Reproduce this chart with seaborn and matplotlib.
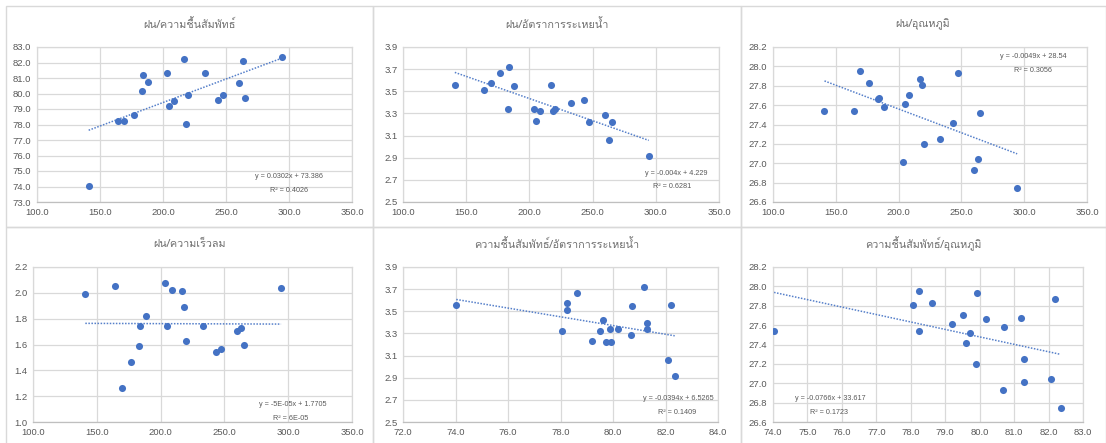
import numpy as np
import pandas as pd
import matplotlib
matplotlib.use("Agg")
import matplotlib.pyplot as plt
from matplotlib import font_manager
from matplotlib.ft2font import FT2Font
from matplotlib.patches import Rectangle
import seaborn as sns

# ---------------- data ----------------
rain = [141.0, 164.4, 169.4, 176.8, 183.4, 184.2, 188.2, 203.5, 205.1, 208.6,
        216.8, 218.4, 220.0, 233.2, 243.3, 247.5, 260.0, 263.1, 265.0, 294.4]
rh = [74.03, 78.25, 78.23, 78.63, 80.18, 81.19, 80.72, 81.30, 79.19, 79.52,
      82.20, 78.05, 79.90, 81.30, 79.60, 79.92, 80.68, 82.08, 79.73, 82.35]
evap = [3.560, 3.510, 3.575, 3.665, 3.343, 3.722, 3.545, 3.337, 3.228, 3.319,
        3.554, 3.325, 3.343, 3.394, 3.424, 3.225, 3.283, 3.057, 3.219, 2.915]
temp = [27.536, 27.539, 27.952, 27.825, 27.663, 27.673, 27.577, 27.013, 27.608, 27.701,
        27.870, 27.808, 27.202, 27.250, 27.419, 27.932, 26.930, 27.044, 27.515, 26.744]
wind = [1.988, 2.050, 1.266, 1.466, 1.590, 1.747, 1.820, 2.076, 1.745, 2.019,
        2.011, 1.890, 1.629, 1.740, 1.543, 1.568, 1.706, 1.731, 1.595, 2.040]

titles = ["ฝน/ความชื้นสัมพัทธ์", "ฝน/อัตราการระเหยน้ำ", "ฝน/อุณหภูมิ",
          "ฝน/ความเร็วลม", "ความชื้นสัมพัทธ์/อัตราการระเหยน้ำ", "ความชื้นสัมพัทธ์/อุณหภูมิ"]
eq_texts = ["y = 0.0302x + 73.386", "y = -0.004x + 4.229", "y = -0.0049x + 28.54",
            "y = -5E-05x + 1.7705", "y = -0.0394x + 6.5265", "y = -0.0766x + 33.617"]
r2_texts = ["R² = 0.4026", "R² = 0.6281", "R² = 0.3056",
            "R² = 6E-05", "R² = 0.1409", "R² = 0.1723"]

x_ticks_rain = [100, 150, 200, 250, 300, 350]
x_ticks_rh5 = [72, 74, 76, 78, 80, 82, 84]
x_ticks_rh6 = [74, 75, 76, 77, 78, 79, 80, 81, 82, 83]
y_ticks_rh = [73, 74, 75, 76, 77, 78, 79, 80, 81, 82, 83]
y_ticks_evap = [2.5, 2.7, 2.9, 3.1, 3.3, 3.5, 3.7, 3.9]
y_ticks_temp = [26.6, 26.8, 27.0, 27.2, 27.4, 27.6, 27.8, 28.0, 28.2]
y_ticks_wind = [1.0, 1.2, 1.4, 1.6, 1.8, 2.0, 2.2]

df = pd.DataFrame({"rain": rain, "rh": rh, "evap": evap, "temp": temp, "wind": wind})

# ---------------- fonts ----------------
sns.set_style("white")


def find_thai_font():
    preferred = []
    others = []
    for f in font_manager.fontManager.ttflist:
        try:
            cm = FT2Font(f.fname).get_charmap()
        except Exception:
            continue
        if 0x0E1D in cm and 0x0E49 in cm:
            if "thai" in f.name.lower() or "loma" in f.name.lower():
                preferred.append(f.name)
            else:
                others.append(f.name)
    for lst in (preferred, others):
        if lst:
            return lst[0]
    return None


thai = find_thai_font()
base = "Liberation Sans"
fams = [base, "DejaVu Sans"]
title_fams = ([thai] if thai else []) + [base, "DejaVu Sans"]
plt.rcParams["font.family"] = fams

W, H = 1106, 443
fig = plt.figure(figsize=(W / 100, H / 100), dpi=100)
fig.patch.set_facecolor("white")

# panel borders (pixels)
col_edges = [6, 373, 741, 1106]
row_edges = [6, 227, 448]
for i in range(2):
    for j in range(3):
        x0, x1 = col_edges[j], col_edges[j + 1]
        y0, y1 = row_edges[i], row_edges[i + 1]
        fig.add_artist(Rectangle((x0 / W, 1 - y1 / H), (x1 - x0) / W, (y1 - y0) / H,
                                 transform=fig.transFigure, fill=False,
                                 edgecolor="#d9d9d9", linewidth=1.0, zorder=0))

# axes positions: left, right, top, bottom (pixels)
boxes = [(37, 352, 47, 202), (403, 719, 47, 202), (773, 1087, 47, 202),
         (33, 352, 267, 422), (403, 718, 267, 422), (773, 1083, 267, 422)]

specs = [
    ("rain", "rh", x_ticks_rain, y_ticks_rh),
    ("rain", "evap", x_ticks_rain, y_ticks_evap),
    ("rain", "temp", x_ticks_rain, y_ticks_temp),
    ("rain", "wind", x_ticks_rain, y_ticks_wind),
    ("rh", "evap", x_ticks_rh5, y_ticks_evap),
    ("rh", "temp", x_ticks_rh6, y_ticks_temp),
]

eq_pos = [((289, 177), (289, 191)), ((676, 174), (672, 187)), ((1033, 57), (1033, 71)),
          ((293, 405), (291, 419)), ((678, 399), (677, 412)), ((830, 399), (829, 412))]
title_pos = [(189, 24), (557, 24), (923, 24), (189, 244), (557, 244), (923, 244)]

blue = "#4472C4"
grid = "#d9d9d9"
txt = "#595959"

for k, ((l, r, t, b), (xc, yc, xt, yt)) in enumerate(zip(boxes, specs)):
    ax = fig.add_axes([l / W, 1 - b / H, (r - l) / W, (b - t) / H])
    sns.regplot(data=df, x=xc, y=yc, ax=ax, ci=None, truncate=True,
                scatter_kws={"s": 26, "color": blue, "linewidths": 0, "alpha": 1, "zorder": 3},
                line_kws={"color": blue, "linestyle": (0, (1, 1)), "linewidth": 1.1,
                          "alpha": 0.9, "zorder": 2})
    ax.set_xlim(xt[0], xt[-1])
    ax.set_ylim(yt[0], yt[-1])
    ax.set_xticks(xt)
    ax.set_yticks(yt)
    ax.set_xticklabels([f"{v:.1f}" for v in xt])
    ax.set_yticklabels([f"{v:.1f}" for v in yt])
    ax.set_xlabel("")
    ax.set_ylabel("")
    ax.grid(True, color=grid, linewidth=0.9)
    ax.set_axisbelow(True)
    for s in ax.spines.values():
        s.set_color(grid)
        s.set_linewidth(0.9)
    ax.spines["bottom"].set_color("#bfbfbf")
    ax.tick_params(axis="both", length=0, labelsize=6.8, colors=txt, pad=4)
    ax.set_facecolor("white")

    tx, ty = title_pos[k]
    fig.text(tx / W, 1 - ty / H, titles[k], ha="center", va="center",
             fontsize=7.8, color="#6f6f6f", family=title_fams)
    (ex, ey), (rx, ry) = eq_pos[k]
    fig.text(ex / W, 1 - ey / H, eq_texts[k], ha="center", va="center",
             fontsize=5.2, color=txt)
    fig.text(rx / W, 1 - ry / H, r2_texts[k], ha="center", va="center",
             fontsize=5.2, color=txt)

fig.savefig("out.png", dpi=100, facecolor="white")
